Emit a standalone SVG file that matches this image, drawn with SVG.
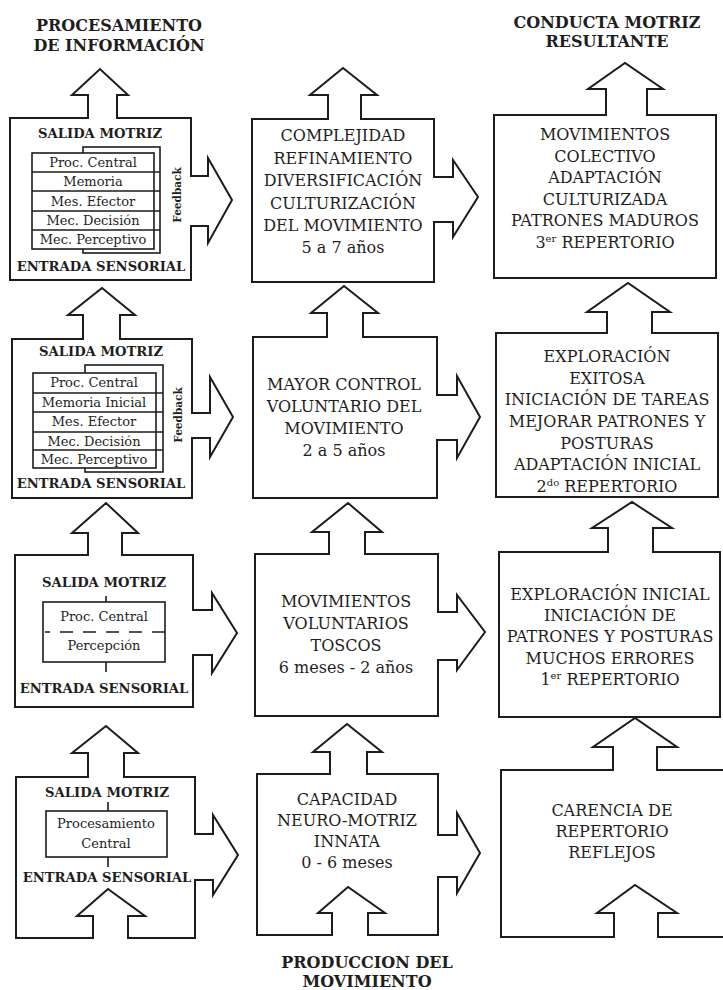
<svg xmlns="http://www.w3.org/2000/svg" width="723" height="990" viewBox="0 0 723 990">
  <style>
    .box{fill:#fff;stroke:#1c1c1c;stroke-width:2}
    .arr{fill:#fff;stroke:#1c1c1c;stroke-width:2;stroke-linejoin:miter}
    .ln{fill:none;stroke:#1c1c1c;stroke-width:1.6}
    .cell{fill:#fff;stroke:#1c1c1c;stroke-width:1.6}
    text{font-family:"DejaVu Serif","Liberation Serif",serif}
    .t{font-size:16px;fill:#1e1e1e;text-anchor:middle}
    .h{font-weight:bold;font-size:16px}
    .lab{font-weight:bold;font-size:13.2px}
    .s{font-size:13px}
    .fb{font-weight:bold;font-size:10.5px}
    .sup{font-size:10px}
  </style>
  <rect width="723" height="990" fill="#fff"/>

  <!-- column headings -->
  <g id="headings" class="t h">
    <text x="119" y="31">PROCESAMIENTO</text>
    <text x="119" y="51">DE INFORMACIÓN</text>
    <text x="607" y="28">CONDUCTA MOTRIZ</text>
    <text x="607" y="47">RESULTANTE</text>
    <text x="367" y="968">PRODUCCION DEL</text>
    <text x="367" y="987">MOVIMIENTO</text>
  </g>

  <!-- processing column, stage 4 -->
  <g id="proc4">
    <rect class="box" x="10" y="118" width="181" height="162"/>
    <text class="t lab" x="100" y="138">SALIDA MOTRIZ</text>
    <rect class="cell" x="83" y="147" width="77" height="106"/>
    <rect class="cell" x="32" y="153" width="122" height="96"/>
    <path class="ln" d="M32 172H160M32 191H160M32 211H160M32 230H160"/>
    <g class="t s">
      <text x="93" y="167">Proc. Central</text>
      <text x="93" y="186">Memoria</text>
      <text x="93" y="206">Mes. Efector</text>
      <text x="93" y="225">Mec. Decisión</text>
      <text x="93" y="244">Mec. Perceptivo</text>
    </g>
    <text class="t fb" transform="translate(177 195) rotate(-90)" x="0" y="4">Feedback</text>
    <text class="t lab" x="101" y="271">ENTRADA SENSORIAL</text>
  </g>

  <!-- processing column, stage 3 -->
  <g id="proc3">
    <rect class="box" x="12" y="339" width="180" height="159"/>
    <text class="t lab" x="101" y="356">SALIDA MOTRIZ</text>
    <rect class="cell" x="85" y="365" width="78" height="107"/>
    <rect class="cell" x="33" y="373" width="123" height="95"/>
    <path class="ln" d="M33 393H163M33 412H163M33 432H163M33 450H163"/>
    <g class="t s">
      <text x="94" y="387">Proc. Central</text>
      <text x="94" y="407">Memoria Inicial</text>
      <text x="94" y="426">Mes. Efector</text>
      <text x="94" y="446">Mec. Decisión</text>
      <text x="94" y="464">Mec. Perceptivo</text>
    </g>
    <text class="t fb" transform="translate(178 415) rotate(-90)" x="0" y="4">Feedback</text>
    <text class="t lab" x="101" y="488">ENTRADA SENSORIAL</text>
  </g>

  <!-- processing column, stage 2 -->
  <g id="proc2">
    <rect class="box" x="15" y="555" width="178" height="152"/>
    <text class="t lab" x="104" y="587">SALIDA MOTRIZ</text>
    <path class="ln" d="M106 596V602M106 662V672"/>
    <rect class="cell" x="43" y="602" width="122" height="60"/>
    <line class="ln" x1="45" y1="632" x2="165" y2="632" stroke-dasharray="13 10" stroke-dashoffset="8"/>
    <g class="t s">
      <text x="104" y="621">Proc. Central</text>
      <text x="104" y="650">Percepción</text>
    </g>
    <text class="t lab" x="104" y="693">ENTRADA SENSORIAL</text>
  </g>

  <!-- processing column, stage 1 -->
  <g id="proc1">
    <rect class="box" x="16" y="777" width="179" height="161"/>
    <text class="t lab" x="107" y="797">SALIDA MOTRIZ</text>
    <path class="ln" d="M108 802V811M108 857V867"/>
    <rect class="cell" x="46" y="811" width="121" height="46"/>
    <g class="t s">
      <text x="106" y="828">Procesamiento</text>
      <text x="106" y="848">Central</text>
    </g>
    <text class="t lab" x="107" y="882">ENTRADA SENSORIAL</text>
  </g>

  <!-- movement production column -->
  <g id="prod4">
    <rect class="box" x="252" y="119" width="182" height="163"/>
    <g class="t">
      <text x="343" y="141">COMPLEJIDAD</text>
      <text x="343" y="163.5">REFINAMIENTO</text>
      <text x="343" y="186">DIVERSIFICACIÓN</text>
      <text x="343" y="208.5">CULTURIZACIÓN</text>
      <text x="343" y="231">DEL MOVIMIENTO</text>
      <text x="343" y="253">5 a 7 años</text>
    </g>
  </g>
  <g id="prod3">
    <rect class="box" x="253" y="337" width="184" height="161"/>
    <g class="t">
      <text x="344" y="390">MAYOR CONTROL</text>
      <text x="344" y="412">VOLUNTARIO DEL</text>
      <text x="344" y="434">MOVIMIENTO</text>
      <text x="344" y="456">2 a 5 años</text>
    </g>
  </g>
  <g id="prod2">
    <rect class="box" x="255" y="554" width="183" height="162"/>
    <g class="t">
      <text x="346" y="607">MOVIMIENTOS</text>
      <text x="346" y="629">VOLUNTARIOS</text>
      <text x="346" y="651">TOSCOS</text>
      <text x="346" y="673">6 meses - 2 años</text>
    </g>
  </g>
  <g id="prod1">
    <rect class="box" x="257" y="774" width="181" height="161"/>
    <g class="t">
      <text x="347" y="805">CAPACIDAD</text>
      <text x="347" y="826">NEURO-MOTRIZ</text>
      <text x="347" y="847">INNATA</text>
      <text x="347" y="868">0 - 6 meses</text>
    </g>
  </g>

  <!-- resulting behaviour column -->
  <g id="beh4">
    <rect class="box" x="494" y="115" width="222" height="163"/>
    <g class="t">
      <text x="605" y="140">MOVIMIENTOS</text>
      <text x="605" y="161.6">COLECTIVO</text>
      <text x="605" y="183.2">ADAPTACIÓN</text>
      <text x="605" y="204.8">CULTURIZADA</text>
      <text x="605" y="226.4">PATRONES MADUROS</text>
      <text x="605" y="248">3<tspan class="sup" dy="-6">er</tspan><tspan dy="6"> REPERTORIO</tspan></text>
    </g>
  </g>
  <g id="beh3">
    <rect class="box" x="496" y="333" width="222" height="164"/>
    <g class="t">
      <text x="607" y="362">EXPLORACIÓN</text>
      <text x="607" y="383.5">EXITOSA</text>
      <text x="607" y="405">INICIACIÓN DE TAREAS</text>
      <text x="607" y="427">MEJORAR PATRONES Y</text>
      <text x="607" y="448.5">POSTURAS</text>
      <text x="607" y="470">ADAPTACIÓN INICIAL</text>
      <text x="607" y="492">2<tspan class="sup" dy="-6">do</tspan><tspan dy="6"> REPERTORIO</tspan></text>
    </g>
  </g>
  <g id="beh2">
    <rect class="box" x="499" y="552" width="221" height="165"/>
    <g class="t">
      <text x="610" y="600">EXPLORACIÓN INICIAL</text>
      <text x="610" y="621">INICIACIÓN DE</text>
      <text x="610" y="642">PATRONES Y POSTURAS</text>
      <text x="610" y="663.5">MUCHOS ERRORES</text>
      <text x="610" y="685">1<tspan class="sup" dy="-6">er</tspan><tspan dy="6"> REPERTORIO</tspan></text>
    </g>
  </g>
  <g id="beh1">
    <rect class="box" x="501" y="770" width="224" height="167"/>
    <g class="t">
      <text x="612" y="816">CARENCIA DE</text>
      <text x="612" y="837">REPERTORIO</text>
      <text x="612" y="858">REFLEJOS</text>
    </g>
  </g>

  <!-- block arrows: upward between stages, rightward between columns, inward at the base -->
  <g id="connectors" class="arr">
    <!-- upward -->
    <path d="M88 119V95H72L100 69L128 95H117V119"/>
    <path d="M328 120V95H310L343 68L377 95H361V120"/>
    <path d="M606 116V89H588L625 63L663 89H647V116"/>
    <path d="M83 340V315H68L102 288L135 315H120V340"/>
    <path d="M327 338V313H311L344 286L378 313H363V338"/>
    <path d="M607 334V312H587L628 283L670 312H652V334"/>
    <path d="M88 556V533H72L106 503L138 533H122V556"/>
    <path d="M329 555V532H312L348 503L382 532H365V555"/>
    <path d="M608 553V528H592L632 502L672 528H653V553"/>
    <path d="M88 778V753H72L106 726L138 753H124V778"/>
    <path d="M330 775V752H313L347 724L382 752H367V775"/>
    <path d="M613 771V747H593L635 718L677 747H657V771"/>
    <!-- rightward -->
    <path d="M190 176H208V158L232 200L208 243V226H190"/>
    <path d="M433 177H453V160L478 197L453 237V222H433"/>
    <path d="M191 413H210V377L233 417L210 457V438H191"/>
    <path d="M436 395H457V376L480 417L457 458V440H436"/>
    <path d="M192 610H212V593L237 633L212 673V655H192"/>
    <path d="M437 612H457V595L485 632L457 670V660H437"/>
    <path d="M194 834H213V815L238 855L213 895V880H194"/>
    <path d="M437 835H457V813L480 853L457 893V877H437"/>
    <!-- inward at the base -->
    <path d="M93 939V916H77L108 889L145 916H128V939"/>
    <path d="M332 936V913H318L348 887L385 913H368V936"/>
    <path d="M614 938V913H597L635 885L677 913H658V938"/>
  </g>
</svg>
